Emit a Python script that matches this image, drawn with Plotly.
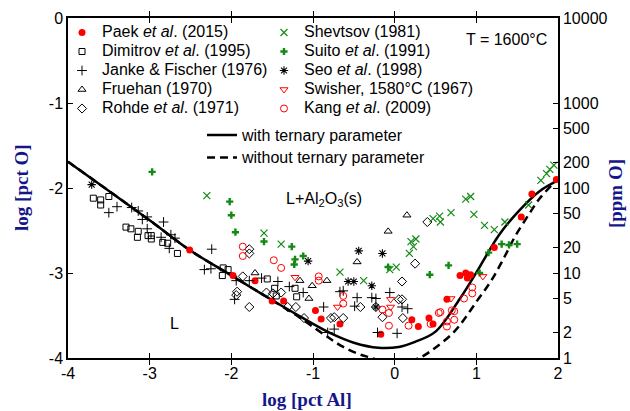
import plotly.graph_objects as go

# ---------------- data (log pct Al, log pct O) ----------------
paek_x = [-2.51, -1.98, -1.71, -1.50, -1.36, -0.97, -0.90, -0.67, -0.17, 0.21, 0.29, 0.42, 0.47,
          0.64, 0.80, 0.87, 0.93, 0.89, 1.22, 1.55, 1.68, 1.98]
paek_y = [-2.73, -3.03, -3.09, -3.33, -3.33, -3.44, -3.54, -3.60, -3.72, -3.55, -3.63, -3.53, -3.60,
          -3.31, -3.03, -3.00, -3.02, -3.06, -2.70, -2.34, -2.07, -1.90]

dimitrov_x = [-3.69, -3.60, -3.60, -3.50, -3.29, -3.23, -3.14, -3.15, -3.02, -2.98, -2.98, -2.84,
              -2.78, -2.66, -2.10, -2.04, -2.11, -1.56, -1.47, -1.45, -1.22, -1.20]
dimitrov_y = [-2.12, -2.14, -2.20, -2.10, -2.46, -2.48, -2.51, -2.58, -2.56, -2.56, -2.60, -2.64,
              -2.65, -2.77, -2.94, -2.96, -3.03, -3.07, -3.18, -3.27, -3.18, -3.28]

janke_x = [-3.50, -3.40, -3.22, -3.14, -3.09, -3.03, -3.03, -2.83, -2.86, -2.76, -2.74, -2.69,
           -2.24, -2.33, -2.25, -1.94, -1.78, -1.63, -1.43, -1.29, -1.12, -0.87, -1.96, -0.67,
           -0.63, -0.74, -0.82, -0.46, -0.28, -0.23, -0.06, 0.09, 0.16, -0.49, -0.21, 0.03]
janke_y = [-2.29, -2.22, -2.23, -2.27, -2.37, -2.48, -2.34, -2.40, -2.58, -2.71, -2.55, -2.59,
           -2.72, -2.96, -2.95, -3.09, -3.09, -3.06, -3.10, -3.16, -3.23, -3.40, -3.31, -3.22,
           -3.21, -3.66, -3.70, -3.29, -3.29, -3.30, -3.23, -3.40, -3.42, -3.39, -3.70, -3.71]

fruehan_x = [-1.71, -1.16, -1.01, -1.05, -0.83, -0.46, -0.08, 0.15]
fruehan_y = [-3.00, -3.09, -3.15, -3.30, -3.09, -2.87, -2.51, -2.32]

rohde_x = [-1.78, -1.78, -1.86, -1.93, -1.94, -1.78, -1.57, -1.49, -1.39, -1.31, -1.21, -1.11,
           -0.78, -0.74, -0.63, 0.25, 0.09, 0.05, 0.09, -0.15, 0.10, -0.42, -0.23, 0.40]
rohde_y = [-2.72, -2.77, -3.04, -3.22, -3.26, -3.40, -3.23, -3.24, -3.23, -3.40, -3.40, -3.53,
           -3.53, -3.52, -3.53, -2.89, -3.10, -3.31, -3.31, -3.52, -3.53, -3.40, -3.40, -2.40]

shevtsov_x = [-2.30, -1.60, -1.39, -0.67, -0.38, -0.06, 0.02, 0.20, 0.26, 0.23, 0.18, 0.47, 0.55,
              0.56, 0.69, 0.87, 0.93, 0.97, 1.10, 1.22, 1.35, 1.64, 1.79, 1.86, 1.90, 1.95]
shevtsov_y = [-2.09, -2.53, -2.66, -2.99, -3.09, -2.96, -2.93, -2.63, -2.60, -2.69, -2.77, -2.36,
              -2.33, -2.40, -2.29, -2.13, -2.10, -2.31, -2.44, -2.49, -2.40, -2.20, -1.91, -1.83,
              -1.78, -1.73]

suito_x = [-2.97, -2.02, -2.00, -1.95, -1.60, -1.26, -1.22, -1.23, -1.12, -0.08, 0.43, 0.66, 1.04,
           1.15, 1.31, 1.40, 1.50]
suito_y = [-1.81, -2.16, -2.32, -2.52, -2.63, -2.69, -2.84, -2.90, -2.80, -2.93, -3.02, -2.91, -3.00,
           -2.76, -2.66, -2.67, -2.66]

seo_x = [-3.71, -1.06, -0.57, -0.50, -0.44, -0.15, -0.28, -0.23]
seo_y = [-1.96, -2.86, -3.10, -3.10, -2.74, -2.77, -3.15, -3.40]

swisher_x = [-1.22, -0.70, -0.05, -0.05, 0.69, 1.08]
swisher_y = [-3.05, -3.40, -3.31, -3.40, -3.30, -3.04]

kang_x = [-1.86, -1.86, -1.48, -1.39, -0.93, -0.93, -0.63, -0.63, -0.15, -0.07, -0.07, 0.17, 0.44,
          0.54, 0.56, 0.64, 0.64, 0.70, 0.73, 0.73, 0.85, 0.95, 0.95]
kang_y = [-2.69, -2.80, -2.85, -2.94, -3.04, -3.09, -3.27, -3.36, -3.43, -3.47, -3.62, -3.62, -3.60,
          -3.47, -3.46, -3.57, -3.63, -3.44, -3.45, -3.55, -3.30, -3.17, -3.24]

with_x = [-4, -3, -2.51, -1.98, -1.57, -1.16, -0.76, -0.5, -0.2, 0.05, 0.25, 0.5, 0.8, 1.04,
          1.28, 1.53, 1.77, 2.0]
with_y = [-1.69, -2.38, -2.73, -3.04, -3.28, -3.51, -3.72, -3.82, -3.88, -3.87, -3.81, -3.69,
          -3.30, -2.93, -2.55, -2.26, -2.04, -1.91]

without_x = [-4, -3, -2.51, -1.98, -1.57, -1.2, -0.96, -0.78, -0.63, -0.45, -0.28, 0.0, 0.30,
             0.51, 0.73, 0.87, 1.0, 1.12, 1.22, 1.35, 1.48, 1.65, 1.77, 1.93]
without_y = [-1.69, -2.38, -2.73, -3.04, -3.28, -3.50, -3.66, -3.78, -3.87, -3.95, -4.0, -4.08,
             -4.0, -3.87, -3.69, -3.52, -3.34, -3.18, -3.03, -2.80, -2.56, -2.30, -2.13, -1.96]

x_ticks = [-4, -3, -2, -1, 0, 1, 2]
y_ticks = [-4, -3, -2, -1, 0]
ppm_ticks = [1, 2, 5, 10, 20, 50, 100, 200, 500, 1000, 10000]

# ---------------- figure ----------------
SANS = "Liberation Sans, Arial, sans-serif"
SERIF = "Liberation Serif, Times New Roman, serif"
NAVY = "#16168a"
GREEN = "#138a13"
RED = "#ff0000"


def lname(t):
    return '<span style="font-size:16px">' + t + '</span>'


fig = go.Figure()

# curves (legend2)
fig.add_trace(go.Scatter(x=with_x, y=with_y, mode="lines", line=dict(color="black", width=2.5, shape="spline"),
                         name=lname("with ternary parameter"), legend="legend2", hoverinfo="skip"))
fig.add_trace(go.Scatter(x=without_x, y=without_y, mode="lines",
                         line=dict(color="black", width=2.5, dash="8px,5px", shape="spline"),
                         name=lname("without ternary parameter"), legend="legend2", hoverinfo="skip"))

# (name, x, y, marker, legend column)
series = [
    ("Paek <i>et al</i>. (2015)", paek_x, paek_y, dict(symbol="circle", size=7, color=RED), "legend"),
    ("Dimitrov <i>et al</i>. (1995)", dimitrov_x, dimitrov_y,
     dict(symbol="square-open", size=6, color="black", line=dict(color="black", width=1)), "legend"),
    ("Janke &amp; Fischer (1976)", janke_x, janke_y,
     dict(symbol="cross-thin-open", size=7, color="black", line=dict(color="black", width=1)), "legend"),
    ("Fruehan (1970)", fruehan_x, fruehan_y,
     dict(symbol="triangle-up-open", size=7, color="black", line=dict(color="black", width=1)), "legend"),
    ("Rohde <i>et al</i>. (1971)", rohde_x, rohde_y,
     dict(symbol="diamond-open", size=7, color="black", line=dict(color="black", width=1)), "legend"),
    ("Shevtsov (1981)", shevtsov_x, shevtsov_y,
     dict(symbol="x-thin-open", size=7, color=GREEN, line=dict(color=GREEN, width=1.2)), "legend3"),
    ("Suito <i>et al</i>. (1991)", suito_x, suito_y,
     dict(symbol="cross", size=6, color=GREEN, line=dict(width=0)), "legend3"),
    ("Seo <i>et al</i>. (1998)", seo_x, seo_y,
     dict(symbol="asterisk-open", size=7, color="black", line=dict(color="black", width=1.1)), "legend3"),
    ("Swisher, 1580°C (1967)", swisher_x, swisher_y,
     dict(symbol="triangle-down-open", size=7, color=RED, line=dict(color=RED, width=1)), "legend3"),
    ("Kang <i>et al</i>. (2009)", kang_x, kang_y,
     dict(symbol="circle-open", size=7, color=RED, line=dict(color=RED, width=1)), "legend3"),
]
for nm, xs, ys, mk, lg in series:
    fig.add_trace(go.Scatter(x=xs, y=ys, mode="markers", marker=mk, name=lname(nm),
                             legend=lg, cliponaxis=False))

# invisible trace that activates the ppm axis
fig.add_trace(go.Scatter(x=[], y=[], yaxis="y2", showlegend=False, hoverinfo="skip"))

fig.add_annotation(x=-0.86, y=-2.14, xref="x", yref="y", showarrow=False,
                   text="L+Al<sub>2</sub>O<sub>3</sub>(s)", font=dict(family=SANS, size=16, color="black"))
fig.add_annotation(x=-2.69, y=-3.59, xref="x", yref="y", showarrow=False,
                   text="L", font=dict(family=SANS, size=16, color="black"))
fig.add_annotation(x=0.982, y=0.938, xref="paper", yref="paper", xanchor="right", yanchor="middle",
                   showarrow=False, text="T = 1600°C", font=dict(family=SANS, size=16, color="black"))

# axis titles
title_font = dict(family=SERIF, size=19, color=NAVY)
fig.add_annotation(x=0.488, y=-0.1206, xref="paper", yref="paper", showarrow=False,
                   xanchor="center", yanchor="middle", text="<b>log [pct Al]</b>", font=title_font)
fig.add_annotation(x=-0.0939, y=0.503, xref="paper", yref="paper", showarrow=False, textangle=-90,
                   xanchor="center", yanchor="middle", text="<b>log [pct O]</b>", font=title_font)
fig.add_annotation(x=1.1163, y=0.485, xref="paper", yref="paper", showarrow=False, textangle=-90,
                   xanchor="center", yanchor="middle", text="<b>[ppm O]</b>", font=title_font)

axis_common = dict(showgrid=False, zeroline=False, showline=True, linecolor="black", linewidth=1.5,
                   ticks="inside", ticklen=5, tickwidth=1.2, tickcolor="black", automargin=False,
                   tickfont=dict(family=SANS, size=16, color="black"))

leg_common = dict(xanchor="left", yanchor="top", bgcolor="rgba(0,0,0,0)", orientation="v",
                  font=dict(family=SANS, size=12, color="black"), indentation=-6, itemsizing="trace")

fig.update_layout(
    width=630, height=411,
    margin=dict(l=68, r=72, t=18, b=53, autoexpand=False),
    paper_bgcolor="white", plot_bgcolor="white",
    font=dict(family=SANS, color="black"),
    xaxis=dict(range=[-4, 2], tickvals=x_ticks, ticktext=[str(v) for v in x_ticks], mirror="allticks",
               **axis_common),
    yaxis=dict(range=[-4, 0], tickvals=y_ticks, ticktext=[str(v) for v in y_ticks], **axis_common),
    yaxis2=dict(overlaying="y", side="right", type="log", range=[0, 4], tickvals=ppm_ticks,
                ticktext=[str(v) for v in ppm_ticks], anchor="x", **axis_common),
    showlegend=True,
    legend=dict(x=0.0, y=1.0, **leg_common),
    legend3=dict(x=0.4122, y=1.0, **leg_common),
    legend2=dict(orientation="v", x=0.2735, y=0.7037, xanchor="left", yanchor="top",
                 font=dict(family=SANS, size=15, color="black"), bgcolor="rgba(0,0,0,0)"),
)

fig.write_html("out.html", config={"displayModeBar": False},
               post_script="document.body.style.margin='0px';document.body.style.overflow='hidden';")
